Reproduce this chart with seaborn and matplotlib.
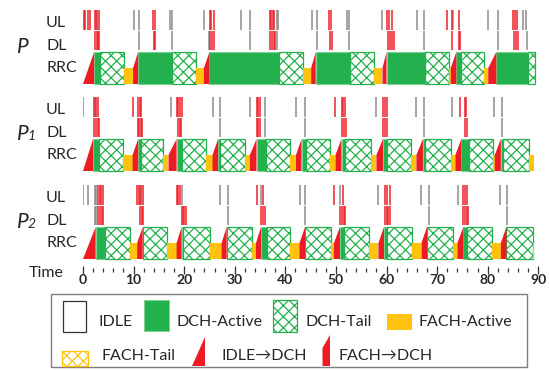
import matplotlib
matplotlib.use("Agg")
import matplotlib.pyplot as plt
from matplotlib.patches import Rectangle, Polygon
import seaborn as sns

# ---------------------------------------------------------------- data
TRACE_NAMES = ["P", "P1", "P2"]
ROW_NAMES = ["UL", "DL", "RRC"]
X_TICKS = [0, 10, 20, 30, 40, 50, 60, 70, 80, 90]

# packet times (s); red = data packets, gray = control / small packets
P_UL_RED = [0.1, 0.4, 1.05, 1.3, 2.4, 2.8, 3.2, 13.9, 14.2, 25.1, 25.4, 25.8,
            36.9, 37.2, 37.5, 37.8, 48.7, 49.1, 60.1, 60.5, 61.0, 71.9, 72.9,
            74.4, 85.0, 85.4, 85.8]
P_UL_GRAY = [2.6, 10.1, 11.1, 17.1, 17.5, 23.9, 31.2, 33.0, 38.3, 38.6, 45.2,
             46.2, 52.1, 52.6, 59.2, 66.1, 67.5, 73.1, 80.1, 82.1, 87.0, 87.6]
P_DL_RED = [2.4, 2.7, 3.0, 3.2, 14.0, 14.3, 25.2, 25.5, 25.8, 36.9, 37.3, 37.7,
            38.0, 48.8, 49.2, 60.2, 60.6, 61.0, 61.4, 72.9, 74.4, 74.6, 85.2,
            85.6, 86.0]
P_DL_GRAY = [11.1, 17.5, 25.0, 33.0, 38.3, 46.2, 52.6, 67.5, 82.1, 87.7]

P1_UL_RED = [2.2, 2.6, 3.0, 9.8, 10.9, 11.2, 11.5, 18.5, 18.8, 19.2, 19.5,
             34.3, 34.6, 35.0, 49.9, 51.1, 51.4, 51.7, 59.3, 59.6, 60.0, 74.5,
             75.5, 75.8]
P1_UL_GRAY = [0.07, 2.4, 17.3, 25.7, 27.0, 33.1, 36.0, 42.1, 43.9, 57.9, 65.8,
              67.5, 73.0, 81.2, 82.9]
P1_DL_RED = [2.2, 2.5, 2.9, 3.2, 10.9, 11.1, 11.4, 11.7, 18.8, 19.1, 19.4,
             34.3, 34.6, 35.0, 51.1, 51.5, 51.9, 59.3, 59.7, 60.1, 75.5, 75.9]
P1_DL_GRAY = [27.0, 36.0, 43.9, 67.5, 82.9]

P2_UL_RED = [2.9, 3.3, 3.6, 3.9, 10.7, 11.0, 11.5, 11.8, 18.5, 18.8, 19.2,
             34.3, 35.6, 49.7, 51.3, 59.7, 60.0, 60.7, 75.1, 75.5, 75.9]
P2_UL_GRAY = [0.07, 1.05, 2.4, 2.6, 11.3, 19.6, 27.1, 28.6, 35.2, 42.8, 43.9,
              50.9, 58.4, 66.9, 68.3, 74.2, 82.5, 83.8]
P2_DL_RED = [3.0, 3.4, 3.7, 3.9, 11.3, 11.6, 11.8, 19.6, 19.9, 20.3, 35.2,
             35.6, 36.0, 50.8, 51.2, 51.6, 51.8, 59.6, 60.0, 60.3, 60.6, 75.2,
             75.6, 76.0, 76.2]
P2_DL_GRAY = [2.4, 2.6, 19.7, 28.6, 43.9, 68.3, 83.8]

# RRC state segments: (state, start, end)
# I2D = IDLE->DCH, F2D = FACH->DCH, DA = DCH-Active, DT = DCH-Tail, FA = FACH-Active
P_RRC = [("I2D", 0.0, 2.2), ("DA", 2.2, 3.4), ("DT", 3.4, 8.2), ("FA", 8.2, 9.9),
         ("F2D", 9.9, 10.9), ("DA", 10.9, 17.6), ("DT", 17.6, 22.3),
         ("FA", 22.3, 23.9), ("F2D", 23.9, 25.0), ("DA", 25.0, 38.7),
         ("DT", 38.7, 43.5), ("FA", 43.5, 45.1), ("F2D", 45.1, 46.0),
         ("DA", 46.0, 52.8), ("DT", 52.8, 57.6), ("FA", 57.6, 59.2),
         ("F2D", 59.2, 60.0), ("DA", 60.0, 67.6), ("DT", 67.6, 72.3),
         ("FA", 72.3, 72.7), ("F2D", 72.7, 73.8), ("DA", 73.8, 74.8),
         ("DT", 74.8, 79.3), ("FA", 79.3, 80.1), ("F2D", 80.1, 81.7),
         ("DA", 81.7, 87.9), ("DT", 87.9, 89.3)]
P1_RRC = [("I2D", 0.0, 2.0), ("DA", 2.0, 3.2), ("DT", 3.2, 8.0), ("FA", 8.0, 9.8),
          ("F2D", 9.8, 10.9), ("DA", 10.9, 11.4), ("DT", 11.4, 15.8),
          ("FA", 15.8, 16.9), ("F2D", 16.9, 18.5), ("DA", 18.5, 19.5),
          ("DT", 19.5, 24.4), ("FA", 24.4, 25.6), ("F2D", 25.6, 26.7),
          ("DA", 26.7, 27.1), ("DT", 27.1, 32.0), ("FA", 32.0, 33.0),
          ("F2D", 33.0, 34.3), ("DA", 34.3, 36.1), ("DT", 36.1, 41.0),
          ("FA", 41.0, 42.1), ("F2D", 42.1, 43.2), ("DA", 43.2, 44.0),
          ("DT", 44.0, 48.8), ("FA", 48.8, 49.9), ("F2D", 49.9, 51.1),
          ("DA", 51.1, 51.7), ("DT", 51.7, 56.9), ("FA", 56.9, 58.0),
          ("F2D", 58.0, 59.3), ("DA", 59.3, 60.0), ("DT", 60.0, 64.9),
          ("FA", 64.9, 65.9), ("F2D", 65.9, 67.2), ("DA", 67.2, 67.7),
          ("DT", 67.7, 72.7), ("FA", 72.7, 73.6), ("F2D", 73.6, 74.8),
          ("DA", 74.8, 76.3), ("DT", 76.3, 81.0), ("FA", 81.0, 81.4),
          ("F2D", 81.4, 82.6), ("DA", 82.6, 83.0), ("DT", 83.0, 88.1),
          ("FA", 88.1, 89.1)]
P2_RRC = [("I2D", 0.0, 2.5), ("DA", 2.5, 4.3), ("DT", 4.3, 9.2), ("FA", 9.2, 10.7),
          ("F2D", 10.7, 11.8), ("DT", 11.8, 16.7), ("FA", 16.7, 18.5),
          ("F2D", 18.5, 19.5), ("DA", 19.5, 19.8), ("DT", 19.8, 25.2),
          ("FA", 25.2, 27.4), ("F2D", 27.4, 28.4), ("DT", 28.4, 33.5),
          ("FA", 33.5, 34.2), ("F2D", 34.2, 35.2), ("DA", 35.2, 36.3),
          ("DT", 36.3, 41.0), ("FA", 41.0, 42.8), ("F2D", 42.8, 43.9),
          ("DT", 43.9, 49.0), ("FA", 49.0, 49.6), ("F2D", 49.6, 50.8),
          ("DA", 50.8, 51.6), ("DT", 51.6, 56.6), ("FA", 56.6, 58.4),
          ("F2D", 58.4, 59.5), ("DA", 59.5, 60.1), ("DT", 60.1, 65.1),
          ("FA", 65.1, 66.9), ("F2D", 66.9, 68.0), ("DT", 68.0, 73.2),
          ("FA", 73.2, 74.0), ("F2D", 74.0, 75.2), ("DA", 75.2, 75.9),
          ("DT", 75.9, 80.8), ("FA", 80.8, 82.6), ("F2D", 82.6, 83.7),
          ("DT", 83.7, 88.9), ("FA", 88.9, 89.1)]

LEGEND_LABELS = ["IDLE", "DCH-Active", "DCH-Tail", "FACH-Active",
                 "FACH-Tail", "IDLE\u2192DCH", "FACH\u2192DCH"]

# ---------------------------------------------------------------- style
sns.set_theme(style="white")
plt.rcParams["font.family"] = ["Lato", "DejaVu Sans"]
plt.rcParams["hatch.linewidth"] = 0.9

RED = "#ED1C24"
GREEN = "#22B14C"
GREEN_EDGE = "#7DCF96"
YELLOW = "#FFC20E"
GRAY = "#8A8A8A"
TEXT = "#262626"

W, H = 549, 371
fig = plt.figure(figsize=(W / 100, H / 100), dpi=100)

# main time axis, y measured in figure pixels from the top
X0_PX, X1_PX, AXIS_Y = 83, 538.3, 269.5
ax = fig.add_axes([X0_PX / W, 1 - AXIS_Y / H, (X1_PX - X0_PX) / W, AXIS_Y / H])
ax.set_xlim(0, 90)
ax.set_ylim(AXIS_Y, 0)
ax.set_facecolor("none")
for s in ax.spines.values():
    s.set_visible(False)
ax.set_yticks([])
ax.set_xticks(X_TICKS)
ax.set_xticks(range(0, 91, 2), minor=True)
ax.tick_params(axis="x", which="both", bottom=True, direction="inout",
               color="#333333", width=0.9)
ax.tick_params(axis="x", which="major", length=5.5, labelsize=10, pad=0.5,
               labelcolor=TEXT)
ax.tick_params(axis="x", which="minor", length=2.4)
for lbl in ax.get_xticklabels():
    lbl.set_fontweight("bold")

GROUP_TOP = [0, 87, 175]
UL_SPAN = (10, 29.5)
DL_SPAN = (30.5, 49.5)
RRC_SPAN = (52, 84)

packets = [
    (P_UL_RED, P_UL_GRAY, P_DL_RED, P_DL_GRAY),
    (P1_UL_RED, P1_UL_GRAY, P1_DL_RED, P1_DL_GRAY),
    (P2_UL_RED, P2_UL_GRAY, P2_DL_RED, P2_DL_GRAY),
]
rrc = [P_RRC, P1_RRC, P2_RRC]


def draw_state(axis, state, t0, t1, top, bot):
    h = bot - top
    if state == "I2D":
        axis.add_patch(Polygon([(t0, bot), (t1, top), (t1, bot)], closed=True,
                               facecolor=RED, edgecolor="none", zorder=3))
    elif state == "F2D":
        axis.add_patch(Polygon([(t0, bot), (t0, bot - 0.5 * h), (t1, top), (t1, bot)],
                               closed=True, facecolor=RED, edgecolor="none", zorder=3))
    elif state == "DA":
        axis.add_patch(Rectangle((t0, top), t1 - t0, h, facecolor=GREEN,
                                 edgecolor=GREEN_EDGE, lw=0.8, zorder=2))
    elif state == "DT":
        axis.add_patch(Rectangle((t0, top), t1 - t0, h, facecolor="white",
                                 edgecolor=GREEN, hatch="xxx", lw=0.9, zorder=2))
    elif state == "FA":
        axis.add_patch(Rectangle((t0, bot - 0.5 * h), t1 - t0, 0.5 * h,
                                 facecolor=YELLOW, edgecolor="none", zorder=2))


for g, top in enumerate(GROUP_TOP):
    ul_r, ul_g, dl_r, dl_g = packets[g]
    for times, span, col in [(ul_g, UL_SPAN, GRAY), (ul_r, UL_SPAN, RED),
                             (dl_g, DL_SPAN, GRAY), (dl_r, DL_SPAN, RED)]:
        ax.vlines(times, top + span[0], top + span[1], colors=col, lw=1.2,
                  alpha=0.9, zorder=3)
    for state, t0, t1 in rrc[g]:
        draw_state(ax, state, t0, t1, top + RRC_SPAN[0], top + RRC_SPAN[1])

# ---------------------------------------------------------------- labels & legend (pixel overlay)
ov = fig.add_axes([0, 0, 1, 1])
ov.set_xlim(0, W)
ov.set_ylim(H, 0)
ov.axis("off")
ov.set_facecolor("none")

LABEL_FS = 11.5
for g, top in enumerate(GROUP_TOP):
    for name, y in zip(ROW_NAMES, [23, 46, 68]):
        ov.text(46, top + y, name, fontsize=LABEL_FS, color=TEXT, va="center", ha="left")
    base = top + 53
    name = TRACE_NAMES[g]
    ov.text(17, base, "P", fontsize=15, fontstyle="italic", color=TEXT,
            va="baseline", ha="left")
    if len(name) > 1:
        ov.text(28, base, name[1:], fontsize=10, fontstyle="italic", color=TEXT,
                va="baseline", ha="left")

ov.text(29, 273, "Time", fontsize=LABEL_FS, color=TEXT, va="center", ha="left")

# legend box
ov.add_patch(Rectangle((51, 294), 476, 73, facecolor="white", edgecolor="#7F7F7F", lw=1.0))
ov.add_patch(Rectangle((63, 301), 23, 31, facecolor="white", edgecolor="#333333", lw=0.9))
ov.add_patch(Rectangle((143.5, 299.5), 25, 31.5, facecolor=GREEN, edgecolor=GREEN_EDGE, lw=0.6))
ov.add_patch(Rectangle((272.5, 299.5), 24, 32, facecolor="white", edgecolor=GREEN,
                       hatch="xxx", lw=0.9))
ov.add_patch(Rectangle((387, 313.5), 25, 16.5, facecolor=YELLOW, edgecolor="none"))
ov.add_patch(Rectangle((62, 350.5), 26, 15.5, facecolor="white", edgecolor=YELLOW,
                       hatch="xxx", lw=0.9))
ov.add_patch(Polygon([(192, 366), (205, 337), (205, 366)], closed=True,
                     facecolor=RED, edgecolor="none"))
ov.add_patch(Polygon([(322.5, 366), (322.5, 348), (330, 335), (330, 366)], closed=True,
                     facecolor=RED, edgecolor="none"))

legend_pos = [(98, 322), (176, 322), (305.5, 322), (419, 322),
              (101.5, 356), (221.5, 356), (338, 356)]
for lab, (x, y) in zip(LEGEND_LABELS, legend_pos):
    ov.text(x, y, lab, fontsize=LABEL_FS, color=TEXT, va="center", ha="left")

fig.savefig("out.png", dpi=100, facecolor="white")
